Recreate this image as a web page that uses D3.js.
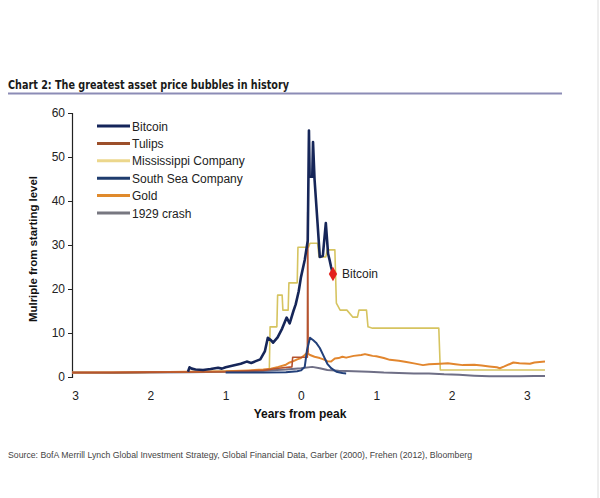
<!DOCTYPE html>
<html>
  <head>
    <meta charset="UTF-8">
    <title>The greatest asset price bubbles in history</title>
    <script src="https://d3js.org/d3.v7.min.js"></script>
    <style>
      body { margin: 0; background: #fff; }
      text { font-family: Arial, "Liberation Sans", sans-serif; }
    </style>
  </head>
  <body>
    <svg id="chart" width="600" height="498"></svg>
    <script>
      // [years from peak, multiple from starting level]
      const bitcoin = [[-1.50,1.2],[-1.48,2.2],[-1.45,1.9],[-1.40,1.7],[-1.30,1.6],[-1.20,1.8],[-1.10,2.1],[-1.05,1.9],
        [-1.00,2.2],[-0.90,2.6],[-0.80,3.0],[-0.72,3.5],[-0.66,3.2],[-0.60,3.6],[-0.54,4.0],[-0.48,5.8],[-0.44,8.9],
        [-0.40,8.4],[-0.37,7.8],[-0.31,9.0],[-0.25,11.0],[-0.19,13.5],[-0.15,12.2],[-0.10,15.0],[-0.07,16.5],
        [-0.03,19.5],[0.00,22.7],[0.05,26.6],[0.09,31.0],[0.106,56.0],[0.115,45.5],[0.15,45.5],[0.16,53.4],
        [0.18,45.0],[0.22,35.0],[0.25,27.3],[0.29,27.5],[0.33,35.0],[0.36,28.0],[0.38,26.6],[0.40,25.0],[0.425,23.4]];
      const tulips = [[-3.04,1.0],[-2.0,1.1],[-1.0,1.2],[-0.5,1.5],[-0.3,2.0],[-0.12,2.3],[-0.11,4.5],[0.085,4.5],
        [0.09,37.5],[0.095,5.5]];
      const mississippi = [[-3.04,1.0],[-2.5,1.0],[-2.0,1.1],[-1.5,1.2],[-1.0,1.3],[-0.7,1.4],[-0.42,1.6],[-0.41,11.4],
        [-0.32,11.4],[-0.31,18.6],[-0.25,18.6],[-0.24,15.2],[-0.17,15.2],[-0.16,21.4],[-0.05,21.4],[-0.04,29.5],
        [0.10,29.5],[0.12,30.4],[0.22,30.4],[0.24,27.3],[0.33,27.3],[0.35,28.9],[0.45,28.9],[0.47,16.8],[0.52,15.2],
        [0.61,15.2],[0.69,13.6],[0.75,13.6],[0.77,15.2],[0.87,15.2],[0.89,11.4],[0.95,11.1],[1.83,11.1],[1.85,1.6],
        [3.24,1.6]];
      const southSea = [[-1.0,1.0],[-0.5,1.0],[-0.2,1.1],[-0.05,1.3],[0.0,1.5],[0.05,2.3],[0.08,6.1],[0.12,8.9],
        [0.16,8.4],[0.20,7.8],[0.25,6.6],[0.30,4.8],[0.35,3.0],[0.40,2.0],[0.47,1.2],[0.55,0.9],[0.60,0.8]];
      const gold = [[-3.04,1.0],[-2.5,1.05],[-2.0,1.1],[-1.5,1.2],[-1.0,1.3],[-0.7,1.5],[-0.5,1.7],[-0.4,1.9],
        [-0.3,2.3],[-0.2,2.8],[-0.15,3.3],[-0.1,3.6],[-0.05,4.0],[0.0,4.3],[0.05,5.0],[0.08,5.5],[0.12,5.0],
        [0.18,4.6],[0.25,4.3],[0.3,4.0],[0.35,3.6],[0.4,3.5],[0.45,4.2],[0.5,4.3],[0.55,4.6],[0.6,4.4],[0.7,4.8],
        [0.8,5.0],[0.85,5.2],[0.9,5.0],[0.95,4.8],[1.0,4.7],[1.1,4.3],[1.18,3.9],[1.3,3.7],[1.4,3.4],[1.5,3.1],
        [1.62,2.7],[1.7,2.9],[1.85,3.0],[1.95,3.1],[2.05,2.9],[2.15,2.7],[2.3,2.8],[2.4,2.6],[2.5,2.4],[2.6,2.2],
        [2.64,2.0],[2.7,2.4],[2.82,3.3],[2.9,3.1],[3.04,3.0],[3.1,3.3],[3.24,3.5]];
      const crash1929 = [[-3.04,1.0],[-2.5,0.9],[-2.0,1.0],[-1.5,1.1],[-1.0,1.2],[-0.5,1.4],[-0.2,1.7],[0.0,2.0],
        [0.15,2.3],[0.25,2.0],[0.35,1.6],[0.5,1.4],[0.7,1.3],[0.9,1.2],[1.1,1.0],[1.3,0.9],[1.5,0.8],[1.7,0.8],
        [1.9,0.6],[2.1,0.5],[2.3,0.3],[2.5,0.15],[2.7,0.15],[2.9,0.15],[3.1,0.2],[3.24,0.2]];

      const seriesNames = ["Bitcoin", "Tulips", "Mississippi Company", "South Sea Company", "Gold", "1929 crash"];
      const xTicks = [-3, -2, -1, 0, 1, 2, 3];
      const yTicks = [0, 10, 20, 30, 40, 50, 60];

      const series = [
        { name: "Mississippi Company", data: mississippi, color: "#d6c460", width: 1.6, legendColor: "#ecd78c" },
        { name: "1929 crash", data: crash1929, color: "#6f6f86", width: 2, legendColor: "#777780" },
        { name: "Gold", data: gold, color: "#e2862e", width: 2, legendColor: "#e08a2c" },
        { name: "Tulips", data: tulips, color: "#b5532f", width: 1.6, legendColor: "#9c4f2a" },
        { name: "South Sea Company", data: southSea, color: "#22407a", width: 2, legendColor: "#1f3c6e" },
        { name: "Bitcoin", data: bitcoin, color: "#162659", width: 2.6, legendColor: "#14245a" }
      ];

      const svg = d3.select("#chart");

      const x = d3.scaleLinear().domain([-3.04, 3.24]).range([72, 545]);
      const y = d3.scaleLinear().domain([0, 60]).range([377, 113]);

      // right page edge
      svg.append("line").attr("x1", 598).attr("x2", 598).attr("y1", 0).attr("y2", 498)
        .attr("stroke", "#dcdcdc").attr("stroke-width", 1);

      // title
      svg.append("text")
        .attr("x", 8).attr("y", 89)
        .attr("textLength", 281).attr("lengthAdjust", "spacingAndGlyphs")
        .style("font-family", "'Liberation Sans Narrow', 'DejaVu Sans Condensed', Arial, sans-serif")
        .style("font-weight", "bold").style("font-size", "12.5px").attr("fill", "#1a1a1a")
        .text("Chart 2: The greatest asset price bubbles in history");
      svg.append("line").attr("x1", 8).attr("x2", 562).attr("y1", 93.5).attr("y2", 93.5)
        .attr("stroke", "#8c8cb6").attr("stroke-width", 2);

      // y axis
      const yAxis = svg.append("g")
        .attr("transform", `translate(${x.range()[0]},0)`)
        .call(d3.axisLeft(y).tickValues(yTicks).tickSize(4).tickPadding(3));
      yAxis.select(".domain").attr("stroke", "#222").attr("stroke-width", 1.2);
      yAxis.selectAll(".tick line").attr("stroke", "#222");
      yAxis.selectAll("text").style("font-size", "12px").attr("fill", "#222");

      // x axis labels only
      const xAxis = svg.append("g")
        .attr("transform", `translate(0,388)`)
        .call(d3.axisBottom(x).tickValues(xTicks).tickSize(0).tickFormat(d => Math.abs(d)));
      xAxis.select(".domain").remove();
      xAxis.selectAll("text").style("font-size", "12px").attr("fill", "#222");

      svg.append("text")
        .attr("x", 300).attr("y", 418).attr("text-anchor", "middle")
        .style("font-weight", "bold").style("font-size", "12px").attr("fill", "#111")
        .text("Years from peak");

      svg.append("text")
        .attr("transform", "translate(37,249) rotate(-90)").attr("text-anchor", "middle")
        .attr("textLength", 146).attr("lengthAdjust", "spacingAndGlyphs")
        .style("font-weight", "bold").style("font-size", "11.5px").attr("fill", "#111")
        .text("Mulriple from starting level");

      // lines
      const line = d3.line().x(d => x(d[0])).y(d => y(d[1]));
      svg.append("g").selectAll("path")
        .data(series)
        .join("path")
        .attr("d", d => line(d.data))
        .attr("fill", "none")
        .attr("stroke", d => d.color)
        .attr("stroke-width", d => d.width)
        .attr("stroke-linejoin", "round");

      // bitcoin marker
      const last = bitcoin[bitcoin.length - 1];
      svg.append("path")
        .attr("d", d3.symbol(d3.symbolDiamond, 60)())
        .attr("transform", `translate(${x(last[0])},${y(last[1])})`)
        .attr("fill", "#e3211c");
      svg.append("text")
        .attr("x", x(last[0]) + 9).attr("y", y(last[1]) + 4)
        .style("font-size", "12px").attr("fill", "#222")
        .text("Bitcoin");

      // legend
      const legend = svg.append("g").attr("transform", "translate(97,126)");
      const rows = legend.selectAll("g")
        .data(seriesNames.map(n => series.find(s => s.name === n)))
        .join("g")
        .attr("transform", (d, i) => `translate(0,${i * 17.4})`);
      rows.append("line").attr("x1", 0).attr("x2", 33).attr("y1", 0).attr("y2", 0)
        .attr("stroke", d => d.legendColor).attr("stroke-width", 3);
      rows.append("text").attr("x", 35).attr("y", 4.5)
        .style("font-size", "12px").attr("fill", "#222")
        .text(d => d.name);

      // source
      svg.append("text")
        .attr("x", 8).attr("y", 458)
        .attr("textLength", 464).attr("lengthAdjust", "spacingAndGlyphs")
        .style("font-size", "8.5px").attr("fill", "#444")
        .text("Source:  BofA Merrill Lynch Global Investment Strategy, Global Financial Data, Garber (2000), Frehen (2012),  Bloomberg");
    </script>
  </body>
</html>
